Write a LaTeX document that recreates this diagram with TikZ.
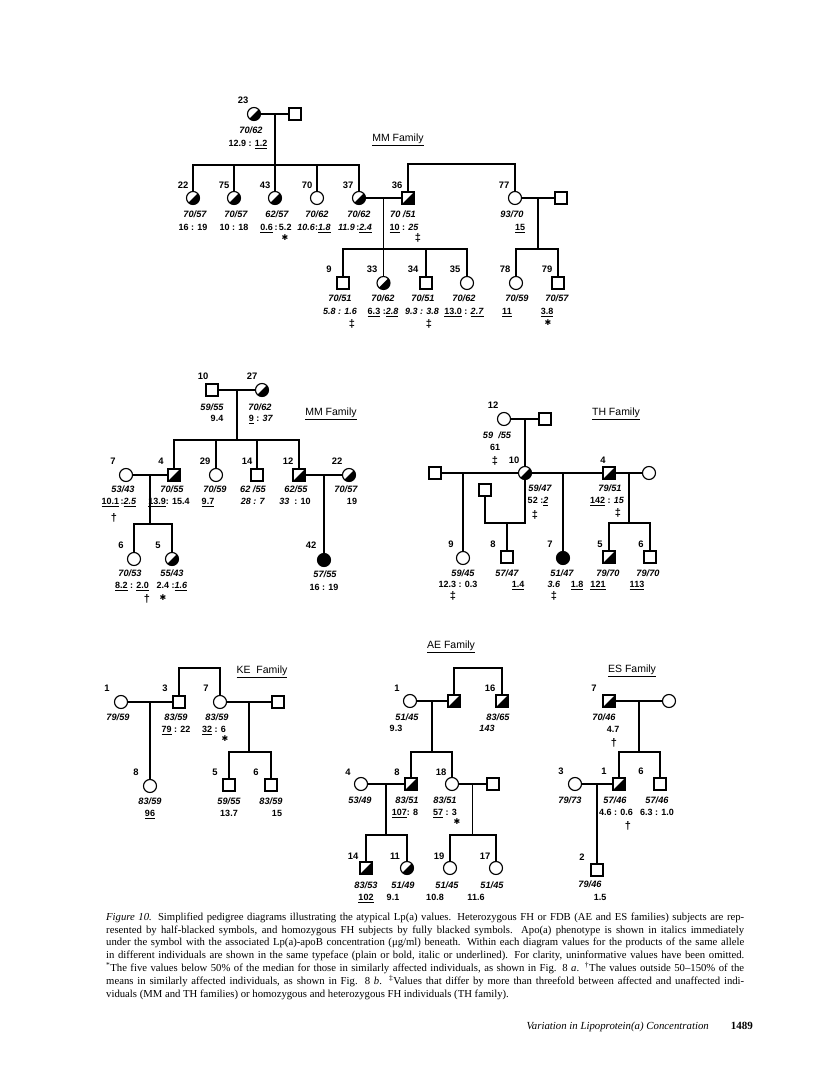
\documentclass[tikz,border=0pt]{standalone}
\usepackage{fontspec}
\newfontfamily\labf{Liberation Sans}
\newfontfamily\capf{Liberation Serif}
\newfontfamily\symf{DejaVu Sans}
\usetikzlibrary{calc}
\tikzset{
  ln/.style={line width=1.15pt},
  fem/.style={circle, draw, line width=1.15pt, minimum size=13pt, inner sep=0pt, fill=white},
  mal/.style={rectangle, draw, line width=1.15pt, minimum size=12pt, inner sep=0pt, fill=white},
  half/.style={path picture={\fill[black] (path picture bounding box.north east) -- (path picture bounding box.south east) -- (path picture bounding box.south west) -- cycle;}},
  aff/.style={fill=black},
  txt/.style={inner sep=0pt, text height=6.6pt, text depth=0pt},
  idn/.style={txt, font=\labf\bfseries\fontsize{9.4}{11}\selectfont},
  phe/.style={txt, font=\labf\bfseries\itshape\fontsize{9.2}{11}\selectfont},
  val/.style={txt, font=\labf\bfseries\fontsize{9}{11}\selectfont},
  dg/.style={txt, font=\labf\bfseries\fontsize{11}{12}\selectfont},
  ast/.style={txt, font=\symf\fontsize{8}{9}\selectfont},
  fam/.style={txt, font=\labf\fontsize{10.5}{12}\selectfont},
  capl/.style={inner sep=0pt, anchor=base west, font=\capf\fontsize{10.7}{13}\selectfont},
}
\newcommand\ul[1]{\underline{#1}}
\begin{document}
\begin{tikzpicture}[x=1pt,y=-1pt]
\fill[white] (0,0) rectangle (816,1068);
\useasboundingbox (0,0) rectangle (816,1068);

% ================= Top MM family =================
\node[fam] (tMM) at (398,138) {\ul{MM Family}};
\node[fem,half] (a23) at (254,114) {};
\node[mal] (a23s) at (295,114) {};
\node[idn] (i23) at (243,100) {23};
\node[phe] (p23) at (251,130) {70/62};
\node[val] (v23) at (248,143) {12.9 : \ul{1.2}};
\coordinate (a23m) at (275,114);
\coordinate (a23c) at (275,165);

\node[fem,half] (a22) at (193,198) {};
\node[fem,half] (a75) at (234,198) {};
\node[fem,half] (a43) at (275,198) {};
\node[fem] (a70) at (317,198) {};
\node[fem,half] (a37) at (359,198) {};
\node[mal,half] (a36) at (408,198) {};
\node[fem] (a77) at (515,198) {};
\node[mal] (a77s) at (561,198) {};

\node[idn] (i22) at (183,185) {22};
\node[idn] (i75) at (224,185) {75};
\node[idn] (i43) at (265,185) {43};
\node[idn] (i70) at (307,185) {70};
\node[idn] (i37) at (348,185) {37};
\node[idn] (i36) at (397,185) {36};
\node[idn] (i77) at (504,185) {77};

\node[phe] (p22) at (195,214) {70/57};
\node[phe] (p75) at (236,214) {70/57};
\node[phe] (p43) at (277,214) {62/57};
\node[phe] (p70) at (317,214) {70/62};
\node[phe] (p37) at (359,214) {70/62};
\node[phe] (p36) at (403,214) {70 /51};
\node[phe] (p77) at (512,214) {93/70};

\node[val] (v22) at (193,227) {16 : 19};
\node[val] (v75) at (234,227) {10 : 18};
\node[val] (v43) at (276,227) {\ul{0.6}\,:\,5.2};
\node[val] (v70) at (314,227) {\textit{10.6}:\ul{\textit{1.8}}};
\node[val] (v37) at (355,227) {\textit{11.9}\,:\ul{\textit{2.4}}};
\node[val] (v36) at (404,227) {\ul{10} : \textit{25}};
\node[val] (v77) at (520,227) {\ul{15}};
\node[ast] (m43) at (285,237) {✱};
\node[dg] (m36) at (418,238) {‡};

\coordinate (a37m) at (383.5,198);
\coordinate (a37c) at (383.5,249);
\coordinate (a36t) at (461,164);
\coordinate (a77m) at (538,198);
\coordinate (a77c) at (538,249);

\node[mal] (a9) at (343,283) {};
\node[fem,half] (a33) at (383.5,283) {};
\node[mal] (a34) at (426,283) {};
\node[fem] (a35) at (467,283) {};
\node[fem] (a78) at (516,283) {};
\node[mal] (a79) at (558,283) {};

\node[idn] (i9) at (329,269) {9};
\node[idn] (i33) at (372,269) {33};
\node[idn] (i34) at (413,269) {34};
\node[idn] (i35) at (455,269) {35};
\node[idn] (i78) at (505,269) {78};
\node[idn] (i79) at (547,269) {79};

\node[phe] (p9) at (340,298) {70/51};
\node[phe] (p33) at (383,298) {70/62};
\node[phe] (p34) at (423,298) {70/51};
\node[phe] (p35) at (464,298) {70/62};
\node[phe] (p78) at (517,298) {70/59};
\node[phe] (p79) at (557,298) {70/57};

\node[val] (v9) at (340,311) {\textit{5.8 : 1.6}};
\node[val] (v33) at (383,311) {\ul{6.3} :\ul{\textit{2.8}}};
\node[val] (v34) at (422,311) {\textit{9.3 : 3.8}};
\node[val] (v35) at (464,311) {\ul{13.0} : \ul{\textit{2.7}}};
\node[val] (v78) at (507,311) {\ul{11}};
\node[val] (v79) at (547,311) {\ul{3.8}};
\node[dg] (m9) at (352,324) {‡};
\node[dg] (m34) at (429,324) {‡};
\node[ast] (m79) at (548,322) {✱};

\draw[ln] (a23) -- (a23s);
\draw[ln] (a23m) -- (a23c);
\foreach \k in {a22,a75,a43,a70,a37} \draw[ln] (\k) |- (a23c);
\draw[ln] (a37) -- (a36);
\draw[ln] (a37m) -- (a37c);
\draw[ln] (a36) |- (a36t) -| (a77);
\draw[ln] (a77) -- (a77s);
\draw[ln] (a77m) -- (a77c);
\foreach \k in {a9,a33,a34,a35} \draw[ln] (\k) |- (a37c);
\foreach \k in {a78,a79} \draw[ln] (\k) |- (a77c);

% ================= Middle MM family =================
\node[fam] (tMM2) at (331,412) {\ul{MM Family}};
\node[mal] (b10) at (212,390) {};
\node[fem,half] (b27) at (262,390) {};
\node[idn] (i10) at (203,376) {10};
\node[idn] (i27) at (252,376) {27};
\node[phe] (p10) at (212,407) {59/55};
\node[phe] (p27) at (260,407) {70/62};
\node[val] (v10) at (217,418) {9.4};
\node[val] (v27) at (261,418) {\ul{9} : \textit{37}};
\coordinate (b10m) at (237,390);
\coordinate (b10c) at (237,440);

\node[fem] (b7) at (126,475) {};
\node[mal,half] (b4) at (174,475) {};
\node[fem] (b29) at (216,475) {};
\node[mal] (b14) at (257,475) {};
\node[mal,half] (b12) at (299,475) {};
\node[fem,half] (b22) at (349,475) {};

\node[idn] (ib7) at (113,461) {7};
\node[idn] (ib4) at (161,461) {4};
\node[idn] (ib29) at (205,461) {29};
\node[idn] (ib14) at (247,461) {14};
\node[idn] (ib12) at (288,461) {12};
\node[idn] (ib22) at (337,461) {22};

\node[phe] (pb7) at (123,489) {53/43};
\node[phe] (pb4) at (172,489) {70/55};
\node[phe] (pb29) at (215,489) {70/59};
\node[phe] (pb14) at (253,489) {62 /55};
\node[phe] (pb12) at (296,489) {62/55};
\node[phe] (pb22) at (346,489) {70/57};

\node[val] (vb7) at (119,501) {\ul{10.1}\,:\ul{\textit{2.5}}};
\node[val] (vb4) at (169,501) {\ul{13.9}: 15.4};
\node[val] (vb29) at (208,501) {\ul{9.7}};
\node[val] (vb14) at (253,501) {\textit{28 : 7}};
\node[val] (vb12) at (295,501) {\textit{33}\ \ : 10};
\node[val] (vb22) at (352,501) {19};
\node[dg] (mb7) at (114,518) {†};

\coordinate (b7m) at (150,475);
\coordinate (b7c) at (150,524);
\coordinate (b12m) at (324,475);

\node[fem] (b6) at (134,559) {};
\node[fem,half] (b5) at (172,559) {};
\node[fem,aff] (b42) at (324,560) {};
\node[idn] (ib6) at (121,545) {6};
\node[idn] (ib5) at (158,545) {5};
\node[idn] (ib42) at (311,545) {42};
\node[phe] (pb6) at (130,573) {70/53};
\node[phe] (pb5) at (172,573) {55/43};
\node[phe] (pb42) at (325,574) {57/55};
\node[val] (vb6) at (132,585) {\ul{8.2} : \ul{2.0}};
\node[val] (vb5) at (172,585) {2.4 :\ul{\textit{1.6}}};
\node[val] (vb42) at (324,587) {16 : 19};
\node[dg] (mb6) at (147,599) {†};
\node[ast] (mb5) at (163,597) {✱};

\draw[ln] (b10) -- (b27);
\draw[ln] (b10m) -- (b10c);
\foreach \k in {b4,b29,b14,b12} \draw[ln] (\k) |- (b10c);
\draw[ln] (b7) -- (b4);
\draw[ln] (b7m) -- (b7c);
\foreach \k in {b6,b5} \draw[ln] (\k) |- (b7c);
\draw[ln] (b12) -- (b22);
\draw[ln] (b12m) -- (b42);

% ================= TH family =================
\node[fam] (tTH) at (616,412) {\ul{TH Family}};
\node[fem] (c12) at (504,419) {};
\node[mal] (c12s) at (545,419) {};
\node[idn] (ic12) at (493,405) {12};
\node[phe] (pc12) at (497,435) {59\ \ /55};
\node[val] (vc12) at (495,447) {61};
\node[dg] (mc12) at (495,461) {‡};
\coordinate (c12m) at (525,419);

\node[mal] (cL) at (435,473) {};
\node[fem,half] (c10) at (525,473) {};
\node[mal,half] (c4) at (609,473) {};
\node[fem] (cR) at (649,473) {};
\node[mal] (cU) at (485,490) {};
\node[idn] (ic10) at (514,460) {10};
\node[idn] (ic4) at (603,460) {4};
\node[phe] (pc10) at (540,488) {59/47};
\node[val] (vc10) at (538,500) {52 :\ul{\textit{2}}};
\node[dg] (mc10) at (535,515) {‡};
\node[phe] (pc4) at (610,488) {79/51};
\node[val] (vc4) at (607,500) {\ul{142} : \textit{15}};
\node[dg] (mc4) at (618,513) {‡};

\coordinate (cLm) at (463,473);
\coordinate (cUc) at (507,523);
\coordinate (c10m) at (563,473);
\coordinate (c4m) at (629,473);
\coordinate (c4c) at (629,523);

\node[fem] (c9) at (463,558) {};
\node[mal] (c8) at (507,557) {};
\node[fem,aff] (c7) at (563,558) {};
\node[mal,half] (c5) at (609,557) {};
\node[mal] (c6) at (650,557) {};
\node[idn] (ic9) at (451,544) {9};
\node[idn] (ic8) at (493,544) {8};
\node[idn] (ic7) at (550,544) {7};
\node[idn] (ic5) at (600,544) {5};
\node[idn] (ic6) at (641,544) {6};
\node[phe] (pc9) at (463,573) {59/45};
\node[phe] (pc8) at (507,573) {57/47};
\node[phe] (pc7) at (562,573) {51/47};
\node[phe] (pc5) at (608,573) {79/70};
\node[phe] (pc6) at (648,573) {79/70};
\node[val] (vc9) at (458,584) {12.3 : 0.3};
\node[val] (vc8) at (518,584) {\ul{1.4}};
\node[val] (vc7a) at (554,584) {\textit{3.6}};
\node[val] (vc7b) at (577,584) {\ul{1.8}};
\node[val] (vc5) at (598,584) {\ul{121}};
\node[val] (vc6) at (637,584) {\ul{113}};
\node[dg] (mc9) at (453,596) {‡};
\node[dg] (mc7) at (554,596) {‡};

\draw[ln] (c12) -- (c12s);
\draw[ln] (c12m) -- (c10);
\draw[ln] (cL) -- (c10);
\draw[ln] (c10) -- (c4);
\draw[ln] (c4) -- (cR);
\draw[ln] (cLm) -- (c9);
\draw[ln] (cU) |- (cUc);
\draw[ln] (cUc) -| (c10);
\draw[ln] (cUc) -- (c8);
\draw[ln] (c10m) -- (c7);
\draw[ln] (c4m) -- (c4c);
\foreach \k in {c5,c6} \draw[ln] (\k) |- (c4c);

% ================= KE family =================
\node[fam] (tKE) at (262,670) {\ul{KE\ \ Family}};
\node[fem] (d1) at (121,702) {};
\node[mal] (d3) at (179,702) {};
\node[fem] (d7) at (220,702) {};
\node[mal] (dS) at (278,702) {};
\node[idn] (id1) at (107,688) {1};
\node[idn] (id3) at (165,688) {3};
\node[idn] (id7) at (206,688) {7};
\node[phe] (pd1) at (118,717) {79/59};
\node[phe] (pd3) at (176,717) {83/59};
\node[phe] (pd7) at (217,717) {83/59};
\node[val] (vd3) at (176,729) {\ul{79} : 22};
\node[val] (vd7) at (214,729) {\ul{32} : 6};
\node[ast] (md7) at (225,738) {✱};
\coordinate (d1m) at (150,702);
\coordinate (d3t) at (199.5,668);
\coordinate (d7m) at (249,702);
\coordinate (d7c) at (249,752);
\node[fem] (d8) at (150,786) {};
\node[mal] (d5) at (229,785) {};
\node[mal] (d6) at (271,785) {};
\node[idn] (id8) at (136,772) {8};
\node[idn] (id5) at (215,772) {5};
\node[idn] (id6) at (256,772) {6};
\node[phe] (pd8) at (150,801) {83/59};
\node[phe] (pd5) at (229,801) {59/55};
\node[phe] (pd6) at (271,801) {83/59};
\node[val] (vd8) at (150,813) {\ul{96}};
\node[val] (vd5) at (229,813) {13.7};
\node[val] (vd6) at (277,813) {15};

\draw[ln] (d1) -- (d3);
\draw[ln] (d1m) -- (d8);
\draw[ln] (d3) |- (d3t) -| (d7);
\draw[ln] (d7) -- (dS);
\draw[ln] (d7m) -- (d7c);
\foreach \k in {d5,d6} \draw[ln] (\k) |- (d7c);

% ================= AE family =================
\node[fam] (tAE) at (451,645) {\ul{AE Family}};
\node[fem] (e1) at (410,701) {};
\node[mal,half] (eX) at (454,701) {};
\node[mal,half] (e16) at (502,701) {};
\node[idn] (ie1) at (397,688) {1};
\node[idn] (ie16) at (490,688) {16};
\node[phe] (pe1) at (407,717) {51/45};
\node[phe] (pe16) at (498,717) {83/65};
\node[val] (ve1) at (396,728) {9.3};
\node[val] (ve16) at (487,728) {\textit{143}};
\coordinate (e1m) at (432,701);
\coordinate (e1c) at (432,752);
\coordinate (eXt) at (478,668);

\node[fem] (e4) at (361,784) {};
\node[mal,half] (e8) at (411,784) {};
\node[fem] (e18) at (452,784) {};
\node[mal] (eS) at (493,784) {};
\node[idn] (ie4) at (348,772) {4};
\node[idn] (ie8) at (397,772) {8};
\node[idn] (ie18) at (441,772) {18};
\node[phe] (pe4) at (360,800) {53/49};
\node[phe] (pe8) at (407,800) {83/51};
\node[phe] (pe18) at (445,800) {83/51};
\node[val] (ve8) at (405,812) {\ul{107}: 8};
\node[val] (ve18) at (445,812) {\ul{57} : 3};
\node[ast] (me18) at (457,821) {✱};
\coordinate (e4m) at (386,784);
\coordinate (e4c) at (386,835);
\coordinate (e18m) at (472.5,784);
\coordinate (e18c) at (472.5,835);

\node[mal,half] (e14) at (366,868) {};
\node[fem,half] (e11) at (407,868) {};
\node[fem] (e19) at (450,868) {};
\node[fem] (e17) at (496,868) {};
\node[idn] (ie14) at (353,856) {14};
\node[idn] (ie11) at (395,856) {11};
\node[idn] (ie19) at (439,856) {19};
\node[idn] (ie17) at (485,856) {17};
\node[phe] (pe14) at (366,885) {83/53};
\node[phe] (pe11) at (403,885) {51/49};
\node[phe] (pe19) at (447,885) {51/45};
\node[phe] (pe17) at (492,885) {51/45};
\node[val] (ve14) at (366,897) {\ul{102}};
\node[val] (ve11) at (393,897) {9.1};
\node[val] (ve19) at (435,897) {10.8};
\node[val] (ve17) at (476,897) {11.6};

\draw[ln] (e1) -- (eX);
\draw[ln] (e1m) -- (e1c);
\draw[ln] (eX) |- (eXt) -| (e16);
\foreach \k in {e8,e18} \draw[ln] (\k) |- (e1c);
\draw[ln] (e4) -- (e8);
\draw[ln] (e4m) -- (e4c);
\foreach \k in {e14,e11} \draw[ln] (\k) |- (e4c);
\draw[ln] (e18) -- (eS);
\draw[ln] (e18m) -- (e18c);
\foreach \k in {e19,e17} \draw[ln] (\k) |- (e18c);

% ================= ES family =================
\node[fam] (tES) at (632,669) {\ul{ES Family}};
\node[mal,half] (f7) at (609,701) {};
\node[fem] (fS) at (669,701) {};
\node[idn] (if7) at (594,688) {7};
\node[phe] (pf7) at (604,717) {70/46};
\node[val] (vf7) at (613,729) {4.7};
\node[dg] (mf7) at (614,743) {†};
\coordinate (f7m) at (639,701);
\coordinate (f7c) at (639,752);

\node[fem] (f3) at (575,784) {};
\node[mal,half] (f1) at (619,784) {};
\node[mal] (f6) at (660,784) {};
\node[idn] (if3) at (561,771) {3};
\node[idn] (if1) at (604,771) {1};
\node[idn] (if6) at (641,771) {6};
\node[phe] (pf3) at (570,800) {79/73};
\node[phe] (pf1) at (615,800) {57/46};
\node[phe] (pf6) at (657,800) {57/46};
\node[val] (vf1) at (616,812) {4.6 : 0.6};
\node[val] (vf6) at (657,812) {6.3 : 1.0};
\node[dg] (mf1) at (628,826) {†};
\coordinate (f3m) at (597,784);
\node[mal] (f2) at (597,870) {};
\node[idn] (if2) at (582,857) {2};
\node[phe] (pf2) at (590,884) {79/46};
\node[val] (vf2) at (600,897) {1.5};

\draw[ln] (f7) -- (fS);
\draw[ln] (f7m) -- (f7c);
\foreach \k in {f1,f6} \draw[ln] (\k) |- (f7c);
\draw[ln] (f3) -- (f1);
\draw[ln] (f3m) -- (f2);

% ================= Caption =================
\node[capl] (cap1) at (106,920.3) {\makebox[638pt][s]{\textit{Figure 10.} Simplified pedigree diagrams illustrating the atypical Lp(a) values. Heterozygous FH or FDB (AE and ES families) subjects are rep-}};
\node[capl] (cap2) at (106,933.1) {\makebox[638pt][s]{resented by half-blacked symbols, and homozygous FH subjects by fully blacked symbols. Apo(a) phenotype is shown in italics immediately}};
\node[capl] (cap3) at (106,945.9) {\makebox[638pt][s]{under the symbol with the associated Lp(a)-apoB concentration (μg/ml) beneath. Within each diagram values for the products of the same allele}};
\node[capl] (cap4) at (106,958.7) {\makebox[638pt][s]{in different individuals are shown in the same typeface (plain or bold, italic or underlined). For clarity, uninformative values have been omitted.}};
\node[capl] (cap5) at (106,971.5) {\makebox[638pt][s]{\textsuperscript{*}The five values below 50\% of the median for those in similarly affected individuals, as shown in Fig. 8 \textit{a}. \textsuperscript{†}The values outside 50–150\% of the}};
\node[capl] (cap6) at (106,984.3) {\makebox[638pt][s]{means in similarly affected individuals, as shown in Fig. 8 \textit{b}. \textsuperscript{‡}Values that differ by more than threefold between affected and unaffected indi-}};
\node[capl] (cap7) at (106,997.1) {viduals (MM and TH families) or homozygous and heterozygous FH individuals (TH family).};

\node[inner sep=0pt, anchor=base east, font=\capf\itshape\fontsize{10.8}{12}\selectfont] (foot) at (709,1029.5) {Variation in Lipoprotein(a) Concentration};
\node[inner sep=0pt, anchor=base east, font=\capf\bfseries\fontsize{11}{12}\selectfont] (page) at (753,1029.5) {1489};
\end{tikzpicture}
\end{document}
